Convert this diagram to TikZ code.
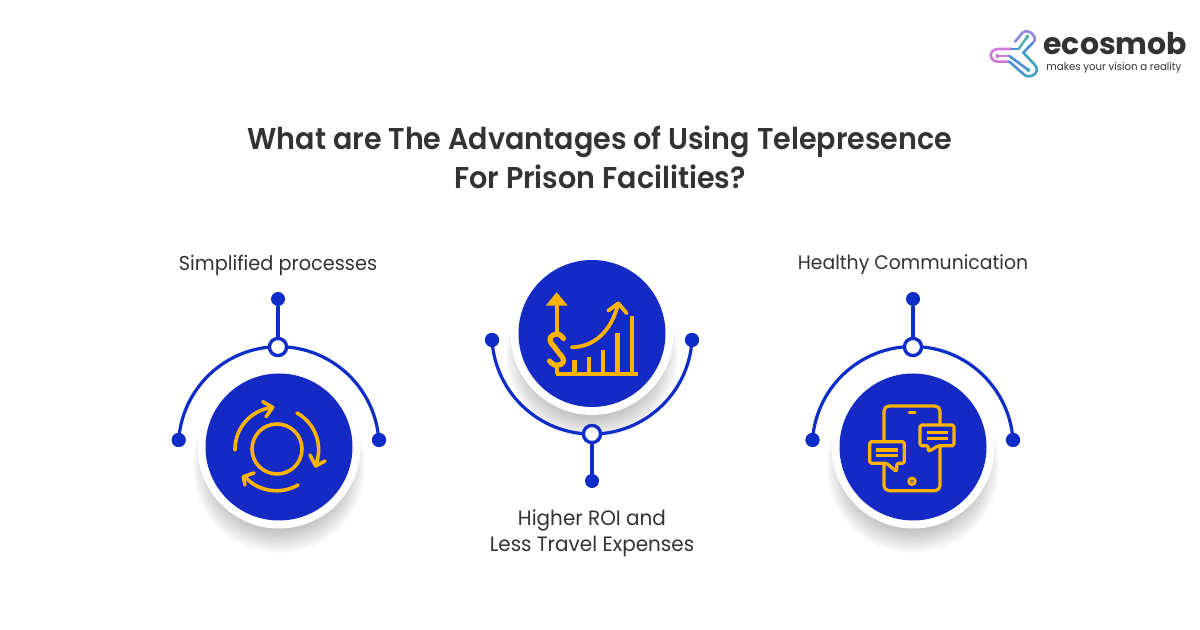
\documentclass[tikz,border=0pt]{standalone}
\usepackage{fontspec}
\setmainfont{Poppins}
\newfontfamily\ttlfont[FakeStretch=0.95]{Poppins SemiBold}
\newfontfamily\lblfont[FakeStretch=0.96]{Poppins}
\newfontfamily\brandfont{Poppins Bold}
\usetikzlibrary{calc}
\definecolor{disc}{HTML}{1529C4}
\definecolor{wire}{HTML}{0E2CC8}
\definecolor{gold}{HTML}{FDB400}
\definecolor{ink}{HTML}{333333}
\definecolor{shade}{HTML}{5C8FBC}
\definecolor{lgpink}{HTML}{CE7BD8}
\definecolor{lgviolet}{HTML}{8F86E0}
\definecolor{lgblue}{HTML}{4D8FD6}
\definecolor{lgteal}{HTML}{3FA2BE}
\definecolor{lggreen}{HTML}{5FB0B0}
\tikzset{
  x=0.5pt,y=0.5pt,
  dotnode/.style={circle,fill=wire,draw=none,inner sep=0pt,minimum size=7pt},
  ringnode/.style={circle,fill=white,draw=wire,line width=1.6pt,inner sep=0pt,minimum size=8.5pt},
  wireline/.style={draw=wire,line width=1.6pt},
  icon/.style={draw=gold,line width=1.8pt,line cap=round,line join=round},
  title/.style={font=\ttlfont\fontsize{15.05}{19}\selectfont,text=ink,align=center},
  label/.style={font=\lblfont\fontsize{9.8}{13}\selectfont,text=ink,align=center},
}
\newcommand{\medal}[2]{%
  \foreach \r in {56,58,...,86}{\fill[shade,opacity=0.02] (#1,#2-20) circle (\r);}
  \fill[white] (#1,#2) circle (81.5);
  \fill[disc] (#1,#2) circle (73.5);
}
\begin{document}
\begin{tikzpicture}
\useasboundingbox (0,0) rectangle (1200,630);
\fill[white] (0,0) rectangle (1200,630);

% title
\node[title] (ttl) at (600,473) {What are The Advantages of Using Telepresence\\[0.5pt]For Prison Facilities?};

% labels
\node[label,font=\lblfont\fontsize{10.05}{13}\selectfont] (la) at (278,365) {Simplified processes};
\node[label,font=\lblfont\fontsize{10.4}{13}\selectfont] (lb) at (592,97) {Higher ROI and\\Less Travel Expenses};
\node[label] (lc) at (913,365) {Healthy Communication};

% medals
\medal{279}{183}
\medal{592}{296.5}
\medal{913}{183}

% left wires
\node[ringnode] (ra) at (278,283) {};
\node[dotnode] (ta) at (278,331) {};
\node[dotnode] (ea) at (178.7,190) {};
\node[dotnode] (fa) at (379,190) {};
\draw[wireline] (ea.center) arc[start angle=176,end angle=4,radius=100.3];
\draw[wireline] (ta) -- (ra);
\node[ringnode] at (ra) {};
\node[dotnode] at (ea) {};
\node[dotnode] at (fa) {};

% middle wires
\node[ringnode] (rb) at (592,196) {};
\node[dotnode] (tb) at (592,149) {};
\node[dotnode] (eb) at (492,290) {};
\node[dotnode] (fb) at (692,290) {};
\draw[wireline] (eb.center) arc[start angle=183.5,end angle=356.5,radius=100.2];
\draw[wireline] (tb) -- (rb);
\node[ringnode] at (rb) {};
\node[dotnode] at (eb) {};
\node[dotnode] at (fb) {};

% right wires
\node[ringnode] (rc) at (913,283) {};
\node[dotnode] (tc) at (913,331) {};
\node[dotnode] (ec) at (812.5,190) {};
\node[dotnode] (fc) at (1013,190) {};
\draw[wireline] (ec.center) arc[start angle=176,end angle=4,radius=100.5];
\draw[wireline] (tc) -- (rc);
\node[ringnode] at (rc) {};
\node[dotnode] at (ec) {};
\node[dotnode] at (fc) {};

% cycle icon
\draw[icon] (277,181) circle (25);
\draw[icon] (235,180) arc[start angle=181,end angle=96,radius=42];
\draw[icon] (262.7,228.3) -- (272.7,222.7) -- (266,213.3);
\draw[icon] (297,217) arc[start angle=61,end angle=-19,radius=42];
\draw[icon] (310,175) -- (315.7,164) -- (325,169);
\draw[icon] (298,145) arc[start angle=-60,end angle=-135,radius=43];
\draw[icon] (254,157) -- (243.3,153.3) -- (245,145);

% growth icon
\draw[icon,line cap=butt] (556.7,256) -- (556.7,264) (556.7,296) -- (556.7,326);
\fill[gold] (545.7,324.3) -- (567.7,324.3) -- (556.7,337.7) -- cycle;
\draw[icon,line cap=butt,line width=2pt] (555.7,256) -- (637.7,256);
\foreach \bx/\bt in {574.3/270,588.7/272.7,603/280,617.3/296.7,631.7/314}{
  \fill[gold] (\bx-2.2,256) rectangle (\bx+2.2,\bt);
}
\draw[icon,line width=2.6pt] plot[smooth,tension=0.8] coordinates {(563.5,291.5) (557,296) (550,290.5) (556.7,280) (563.5,269.5) (556.7,264.5) (549.5,269)};
\draw[icon,line width=1.9pt] (571.7,282.7) .. controls (595,283) and (612,300) .. (618.3,326.7);
\draw[icon,line width=1.9pt] (608.3,319.3) -- (618.3,326.7) -- (626.7,316.7);

% chat icon
\draw[icon,line width=1.6pt,rounded corners=2.5pt] (884,139.3) rectangle (940,224);
\draw[icon,line width=1.5pt] (909,217.7) -- (915,217.7);
\draw[icon,line width=1.4pt] (912,148.7) circle (3.3);
\fill[gold] (912,148.7) circle (1);
\draw[icon,line width=1.6pt,fill=disc,rounded corners=0.8pt] (920,205) -- (954,205) -- (954,184.3) -- (938.3,184.3) -- (928.3,178.3) -- (928.3,184.3) -- (920,184.3) -- cycle;
\draw[icon,line width=1.6pt,line cap=butt] (926.7,197.3) -- (947.7,197.3) (926.7,191.7) -- (947.7,191.7);
\draw[icon,line width=1.6pt,fill=disc,rounded corners=0.8pt] (869.7,188.3) -- (904.3,188.3) -- (904.3,166.7) -- (896.7,166.7) -- (896.7,158.3) -- (886.7,166.7) -- (869.7,166.7) -- cycle;
\draw[icon,line width=1.6pt,line cap=butt] (876,180) -- (898,180) (876,174.3) -- (898,174.3);

% logo
\begin{scope}[shift={(970,620)},xscale=1/3,yscale=-1/3,line cap=round,line join=round]
  \tikzset{lg/.style={line width=1.3pt}}
  \draw[lg,draw=lgpink] (125,117) -- (85,117) .. controls (55,117) and (55,155) .. (85,155) -- (118,155);
  \draw[lg,draw=lgblue] (118,155) -- (158,190);
  \draw[lg,draw=lgteal] (158,190) .. controls (175,212) and (215,190) .. (195,165) -- (160,128);
  \draw[lg,draw=lgblue] (125,117) -- (146,117);
  \draw[lg,draw=lgviolet] (135,95) -- (158,68) .. controls (175,52) and (210,85) .. (187,100);
  \draw[lg,draw=lgblue] (187,100) -- (160,128);
  \draw[lg,draw=lggreen] (172,80) -- (146,117);
  \draw[lg,draw=lgpink] (82,138) -- (118,138);
  \draw[lg,draw=lgblue] (118,138) -- (175,180);
  \fill[lgpink] (82,138) circle (6);
  \fill[lggreen] (172,80) circle (6);
  \fill[lgteal] (175,180) circle (6);
\end{scope}
\node[font=\brandfont\fontsize{15}{16}\selectfont,text=ink,anchor=base west,inner sep=0pt] (lg1) at (1043,575) {ecosmob};
\node[font=\lblfont\fontsize{5.3}{7}\selectfont,text=ink,anchor=base west,inner sep=0pt] (lg2) at (1046,559) {makes your vision a reality};
\end{tikzpicture}
\end{document}
